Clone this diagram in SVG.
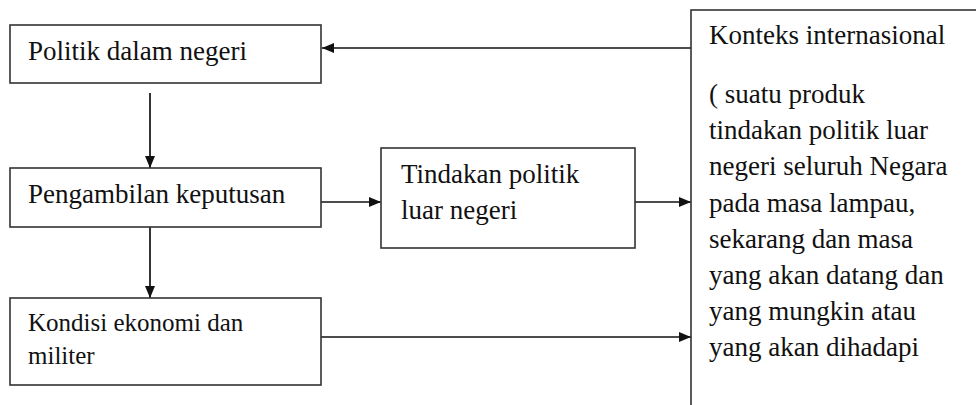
<svg xmlns="http://www.w3.org/2000/svg" width="976" height="405" viewBox="0 0 976 405">
<style>
.box{fill:#fff;stroke:#333;stroke-width:1.6}
.t{font-family:'Liberation Serif','Times New Roman',serif;font-size:27px;fill:#111}
.s{font-size:25px}
.c{stroke:#111;stroke-width:1.7;fill:none;marker-end:url(#ah)}
</style>
<defs>
<marker id="ah" viewBox="0 0 12 10" refX="12" refY="5" markerWidth="12" markerHeight="10" markerUnits="userSpaceOnUse" orient="auto">
<path d="M0,0 L12,5 L0,10 z" fill="#111"/>
</marker>
</defs>
<rect width="976" height="405" fill="#fff"/>
<g id="connectors">
<line class="c" x1="691" y1="48" x2="322" y2="48"/>
<line class="c" x1="150" y1="93" x2="150" y2="168"/>
<line class="c" x1="321" y1="202" x2="381" y2="202"/>
<line class="c" x1="630" y1="202" x2="691" y2="202"/>
<line class="c" x1="150" y1="227" x2="150" y2="298"/>
<line class="c" x1="321" y1="337" x2="691" y2="337"/>
</g>
<g id="politik-dalam-negeri">
<rect class="box" x="10" y="25" width="311" height="58"/>
<text class="t" x="28" y="60">Politik dalam negeri</text>
</g>
<g id="pengambilan-keputusan">
<rect class="box" x="10" y="168" width="311" height="59"/>
<text class="t" x="28" y="203">Pengambilan keputusan</text>
</g>
<g id="kondisi-ekonomi">
<rect class="box" x="10" y="298" width="311" height="87"/>
<text class="t s" x="28" y="331">Kondisi ekonomi dan</text>
<text class="t s" x="28" y="364">militer</text>
</g>
<g id="tindakan-politik">
<rect class="box" x="381" y="148" width="254" height="100"/>
<text class="t" x="401" y="183">Tindakan politik</text>
<text class="t" x="401" y="219">luar negeri</text>
</g>
<g id="konteks-internasional">
<rect class="box" x="691" y="10" width="300" height="410"/>
<text class="t" x="709" y="44">Konteks internasional</text>
<text class="t" x="709" y="103">( suatu produk</text>
<text class="t" x="709" y="139">tindakan politik luar</text>
<text class="t" x="709" y="175">negeri seluruh Negara</text>
<text class="t" x="709" y="212">pada masa lampau,</text>
<text class="t" x="709" y="248">sekarang dan masa</text>
<text class="t" x="709" y="284">yang akan datang dan</text>
<text class="t" x="709" y="320">yang mungkin atau</text>
<text class="t" x="709" y="356">yang akan dihadapi</text>
</g>
</svg>
